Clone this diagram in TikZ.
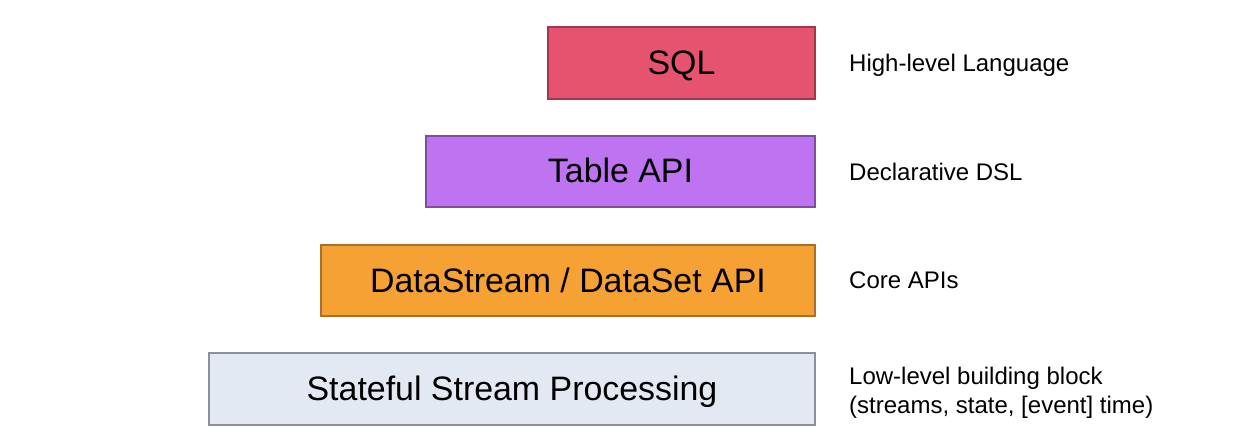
\documentclass[tikz,border=0pt]{standalone}
\usepackage{fontspec}
\setmainfont{Liberation Sans}
\definecolor{sqlf}{HTML}{E6536E}
\definecolor{sqld}{HTML}{A0374A}
\definecolor{tabf}{HTML}{BE73F0}
\definecolor{tabd}{HTML}{7F4F9F}
\definecolor{dsf}{HTML}{F5A133}
\definecolor{dsd}{HTML}{A8702A}
\definecolor{stf}{HTML}{E3E9F3}
\definecolor{std}{HTML}{8C9098}
\begin{document}
\begin{tikzpicture}[x=1pt,y=-1pt,
  layer/.style={draw,line width=1.2pt,inner sep=0pt},
  big/.style={anchor=base,inner sep=0pt,font=\fontsize{33.9}{40}\selectfont},
  lbl/.style={anchor=base west,inner sep=0pt,font=\fontsize{24}{29}\selectfont}]
\useasboundingbox (0,0) rectangle (1247,446);
\fill[white] (0,0) rectangle (1247,446);
\draw[layer,fill=sqlf,draw=sqld] (548,27) rectangle (815,99);
\node[big] (sql) at (681.5,74.5) {SQL};
\draw[layer,fill=tabf,draw=tabd] (426,136) rectangle (815,207);
\node[big] (tab) at (620.5,183) {Table API};
\draw[layer,fill=dsf,draw=dsd] (321,245) rectangle (815,316);
\node[big] (ds) at (568,292) {DataStream / DataSet API};
\draw[layer,fill=stf,draw=std] (209,353) rectangle (815,425);
\node[big] (st) at (512,400.5) {Stateful Stream Processing};
\node[lbl] (l1) at (849,72) {High-level Language};
\node[lbl] (l2) at (849,180.5) {Declarative DSL};
\node[lbl] (l3) at (849,289) {Core APIs};
\node[lbl] (l4a) at (849,384) {Low-level building block};
\node[lbl] (l4b) at (849,413) {(streams, state, [event] time)};
\end{tikzpicture}
\end{document}
